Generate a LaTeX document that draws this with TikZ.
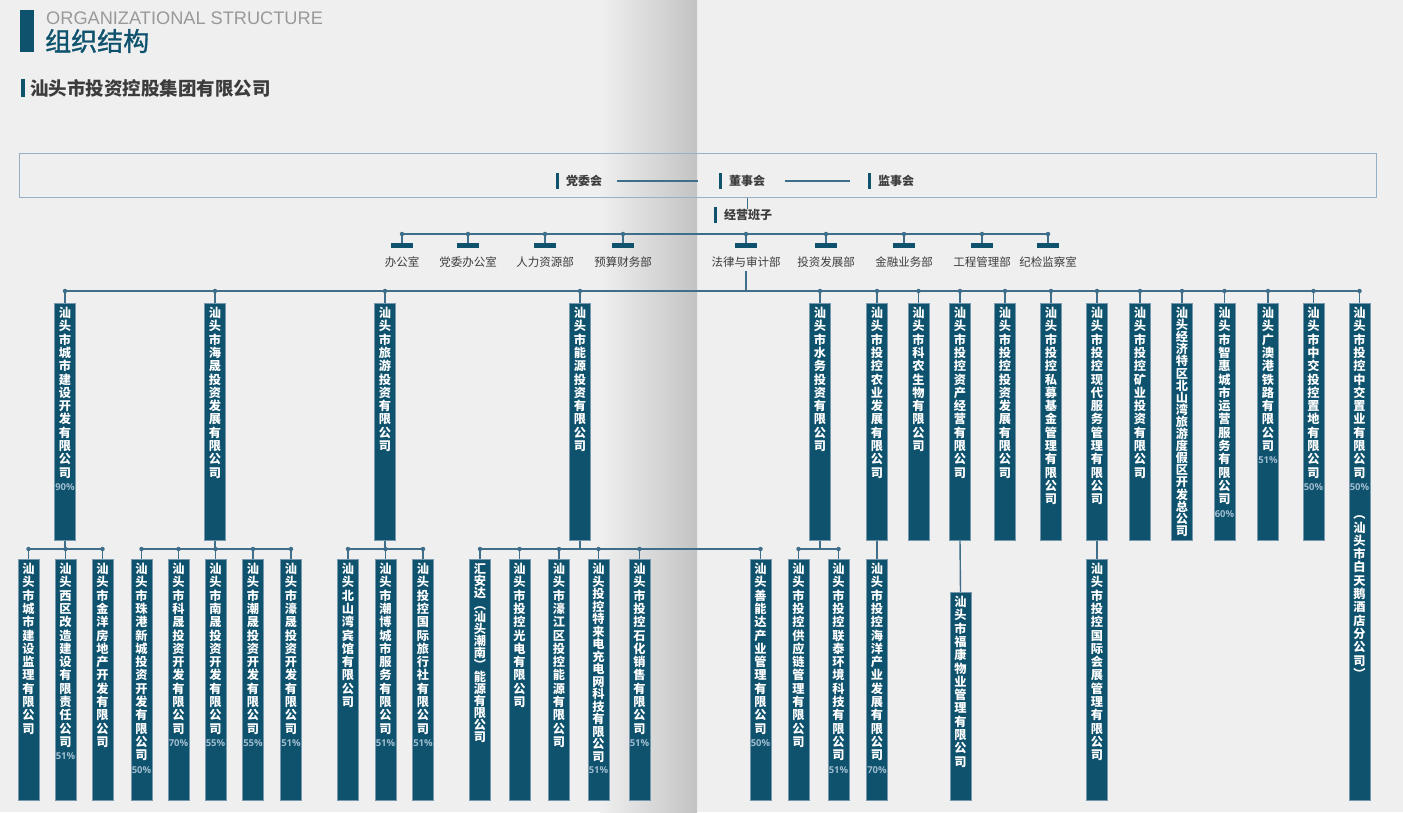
\documentclass[tikz,border=0pt]{standalone}
\usepackage{fontspec}
\setmainfont{Noto Sans CJK SC}
\newfontfamily\latinfont{Liberation Sans}
\newfontfamily\pctfamily{Open Sans}
\usetikzlibrary{positioning}
\definecolor{boxblue}{RGB}{14,82,110}
\definecolor{lineblue}{RGB}{62,110,138}
\definecolor{framecol}{RGB}{152,176,198}
\definecolor{bggray}{RGB}{239,239,239}
\definecolor{foldgray}{RGB}{194,194,194}
\definecolor{pctblue}{RGB}{160,188,206}
\definecolor{titlegray}{RGB}{60,60,60}

% one character per line
\ExplSyntaxOn
\NewDocumentCommand\vtext{m}{
  \seq_clear:N \l_tmpa_seq
  \tl_map_inline:nn {#1} { \seq_put_right:Nn \l_tmpa_seq {##1} }
  \seq_use:Nn \l_tmpa_seq {\\}
}
\NewDocumentCommand\pctline{m}{
  \tl_if_blank:nF {#1} { \\ {\pctfamily\fontsize{9.5}{10}\selectfont\color{pctblue}#1} }
}
\ExplSyntaxOff

% [pitch]{name}{x}{top}{height}{text}{share}
\newcommand{\company}[7][13.3]{%
  \node[compbox, minimum height=#5] (#2) at (#3,#4) {};
  \node[comptext, font=\bfseries\fontsize{12.2}{#1}\selectfont] (#2t) at ([yshift=-4pt]#2.north) {\vtext{#6}\pctline{#7}};
}

\begin{document}
\begin{tikzpicture}[x=1pt, y=-1pt,
  link/.style={draw=lineblue, line width=1.4pt},
  dot/.style={circle, fill=lineblue, inner sep=0pt, minimum size=4.5pt},
  compbox/.style={fill=boxblue, draw=lineblue!70, line width=0.5pt, minimum width=21pt, inner sep=0pt, anchor=north},
  comptext/.style={text=white, align=center, anchor=north, inner sep=0pt},
  boardlbl/.style={font=\bfseries\fontsize{12}{14}\selectfont, text=titlegray, inner sep=0pt, anchor=west},
  deptbar/.style={fill=boxblue, minimum width=22pt, minimum height=5pt, inner sep=0pt},
  deptlbl/.style={font=\fontsize{11.5}{14}\selectfont, text=titlegray, inner sep=0pt},
]
\useasboundingbox (0,0) rectangle (1403,812);
\fill[bggray] (0,0) rectangle (1403,812);

% page fold
\shade[left color=bggray, right color=bggray!88!black] (600,0) rectangle (665,812);
\shade[left color=bggray!88!black, right color=foldgray] (665,0) rectangle (697,812);

% heading
\fill[boxblue] (20,10) rectangle (34,52);
\node[anchor=base west, inner sep=0pt, font=\latinfont\fontsize{18.2}{20}\selectfont, text=black!40] (entitle) at (46,24) {ORGANIZATIONAL STRUCTURE};
\node[anchor=west, inner sep=0pt, font=\fontsize{26}{28}\selectfont, text=boxblue] (cntitle) at (45,41) {\addfontfeature{FakeBold=1.2}组织结构};
\fill[boxblue] (21,79) rectangle (25,97);
\node[anchor=west, inner sep=0pt, font=\bfseries\fontsize{18.5}{20}\selectfont, text=titlegray] (group) at (30,88) {汕头市投资控股集团有限公司};

% boards
\node[draw=framecol, line width=1pt, minimum width=1357pt, minimum height=44pt, inner sep=0pt, anchor=north west] (frame) at (19,153) {};
\node[boardlbl] (dwh) at (566,181) {党委会};
\node[boardlbl] (dsh) at (729,181) {董事会};
\node[boardlbl] (jsh) at (878,181) {监事会};
\node[boardlbl] (jybz) at (724,215) {经营班子};
\foreach \n in {dwh,dsh,jsh,jybz}
  \fill[boxblue] ([xshift=-10pt,yshift=2pt]\n.north west) rectangle ([xshift=-7pt,yshift=-2pt]\n.south west);
\draw[link, line width=1.2pt, shorten <=15pt, shorten >=31pt] (dwh.east) -- (dsh.west);
\draw[link, line width=1.2pt, shorten <=20pt, shorten >=28pt] (dsh.east) -- (jsh.west);
\draw[link, line width=1.2pt] (frame.south -| dsh.center) -- (jybz.north -| dsh.center);

% departments
\coordinate (dl) at (0,234);
\foreach \x/\t [count=\i] in {402/办公室, 468/党委办公室, 545/人力资源部, 623/预算财务部,
    746/法律与审计部, 826/投资发展部, 904/金融业务部, 982/工程管理部, 1048/纪检监察室} {
  \node[deptbar] (p\i) at (\x,245.5) {};
  \node[deptlbl, below=8pt of p\i] (q\i) {\t};
}
\draw[link] (p1 |- dl) -- (p9 |- dl);
\foreach \i in {1,...,9}
  \draw[link] (p\i |- dl) node[dot] {} -- (p\i.north);

% subsidiaries
\company{c1}{65}{303}{237}{汕头市城市建设开发有限公司}{90\%}
\company{c2}{215}{303}{237}{汕头市海晟投资发展有限公司}{}
\company{c3}{385}{303}{237}{汕头市旅游投资有限公司}{}
\company{c4}{580}{303}{237}{汕头市能源投资有限公司}{}
\company{c5}{820}{303}{237}{汕头市水务投资有限公司}{}
\company{c6}{877}{303}{237}{汕头市投控农业发展有限公司}{}
\company{c7}{918.5}{303}{237}{汕头市科农生物有限公司}{}
\company{c8}{960}{303}{237}{汕头市投控资产经营有限公司}{}
\company{c9}{1005}{303}{237}{汕头市投控投资发展有限公司}{}
\company{c10}{1051}{303}{237}{汕头市投控私募基金管理有限公司}{}
\company{c11}{1097}{303}{237}{汕头市投控现代服务管理有限公司}{}
\company{c12}{1140}{303}{237}{汕头市投控矿业投资有限公司}{}
\company[12.1]{c13}{1182}{303}{237}{汕头经济特区北山湾旅游度假区开发总公司}{}
\company{c14}{1224.5}{303}{237}{汕头市智惠城市运营服务有限公司}{60\%}
\company{c15}{1268}{303}{237}{汕头广澳港铁路有限公司}{51\%}
\company{c16}{1313.5}{303}{237}{汕头市中交投控置地有限公司}{50\%}
\node[compbox, minimum height=497] (c17) at (1359.5,303) {};
\node[comptext, font=\bfseries\fontsize{12.2}{13.3}\selectfont] (c17t) at ([yshift=-4pt]c17.north)
  {\vtext{汕头市投控中交置业有限公司}\pctline{50\%}\\[15pt]\vtext{︵汕头市白天鹅酒店分公司︶}};

\coordinate (l1) at (0,291);
\draw[link, shorten <=4pt] (q5.south) -- (q5.south |- l1);
\draw[link] (c1.north |- l1) -- (c17.north |- l1);
\foreach \i in {1,...,17}
  \draw[link] (c\i.north |- l1) node[dot] {} -- (c\i.north);

% second level
\company{d1}{28.5}{559}{241}{汕头市城市建设监理有限公司}{}
\company{d2}{65.5}{559}{241}{汕头西区改造建设有限责任公司}{51\%}
\company{d3}{102.5}{559}{241}{汕头市金洋房地产开发有限公司}{}
\company{d4}{141.5}{559}{241}{汕头市珠港新城投资开发有限公司}{50\%}
\company{d5}{178.5}{559}{241}{汕头市科晟投资开发有限公司}{70\%}
\company{d6}{215.5}{559}{241}{汕头市南晟投资开发有限公司}{55\%}
\company{d7}{253}{559}{241}{汕头市潮晟投资开发有限公司}{55\%}
\company{d8}{291}{559}{241}{汕头市濠晟投资开发有限公司}{51\%}
\company{d9}{348}{559}{241}{汕头北山湾宾馆有限公司}{}
\company{d10}{385.5}{559}{241}{汕头市潮博城市服务有限公司}{51\%}
\company{d11}{423}{559}{241}{汕头投控国际旅行社有限公司}{51\%}
\company[12]{d12}{480}{559}{241}{汇安达︵汕头潮南︶能源有限公司}{}
\company{d13}{519.5}{559}{241}{汕头市投控光电有限公司}{}
\company{d14}{559}{559}{241}{汕头市濠江区投控能源有限公司}{}
\company[12.5]{d15}{598.5}{559}{241}{汕头投控特来电充电网科技有限公司}{51\%}
\company{d16}{639.5}{559}{241}{汕头市投控石化销售有限公司}{51\%}
\company{d17}{760.5}{559}{241}{汕头善能达产业管理有限公司}{50\%}
\company{d18}{798.5}{559}{241}{汕头市投控供应链管理有限公司}{}
\company{d19}{838.5}{559}{241}{汕头市投控联泰环境科技有限公司}{51\%}
\company{d20}{877}{559}{241}{汕头市投控海洋产业发展有限公司}{70\%}
\company{d21}{960.5}{592}{208}{汕头市福康物业管理有限公司}{}
\company{d22}{1097}{559}{241}{汕头市投控国际会展管理有限公司}{}

\coordinate (l2) at (0,549);
\foreach \p/\a/\b/\kids in {c1/d1/d3/{d1,d2,d3}, c2/d4/d8/{d4,d5,d6,d7,d8},
    c3/d9/d11/{d9,d10,d11}, c4/d12/d17/{d12,d13,d14,d15,d16,d17}, c5/d18/d19/{d18,d19}} {
  \draw[link] (\p.south) -- (\p.south |- l2);
  \draw[link] (\a.north |- l2) -- (\b.north |- l2);
  \foreach \d in \kids
    \draw[link] (\d.north |- l2) node[dot] {} -- (\d.north);
}
\draw[link] (c6.south) -- (d20.north);
\draw[link] (c8.south) -- (d21.north);
\draw[link] (c11.south) -- (d22.north);
\end{tikzpicture}
\end{document}
